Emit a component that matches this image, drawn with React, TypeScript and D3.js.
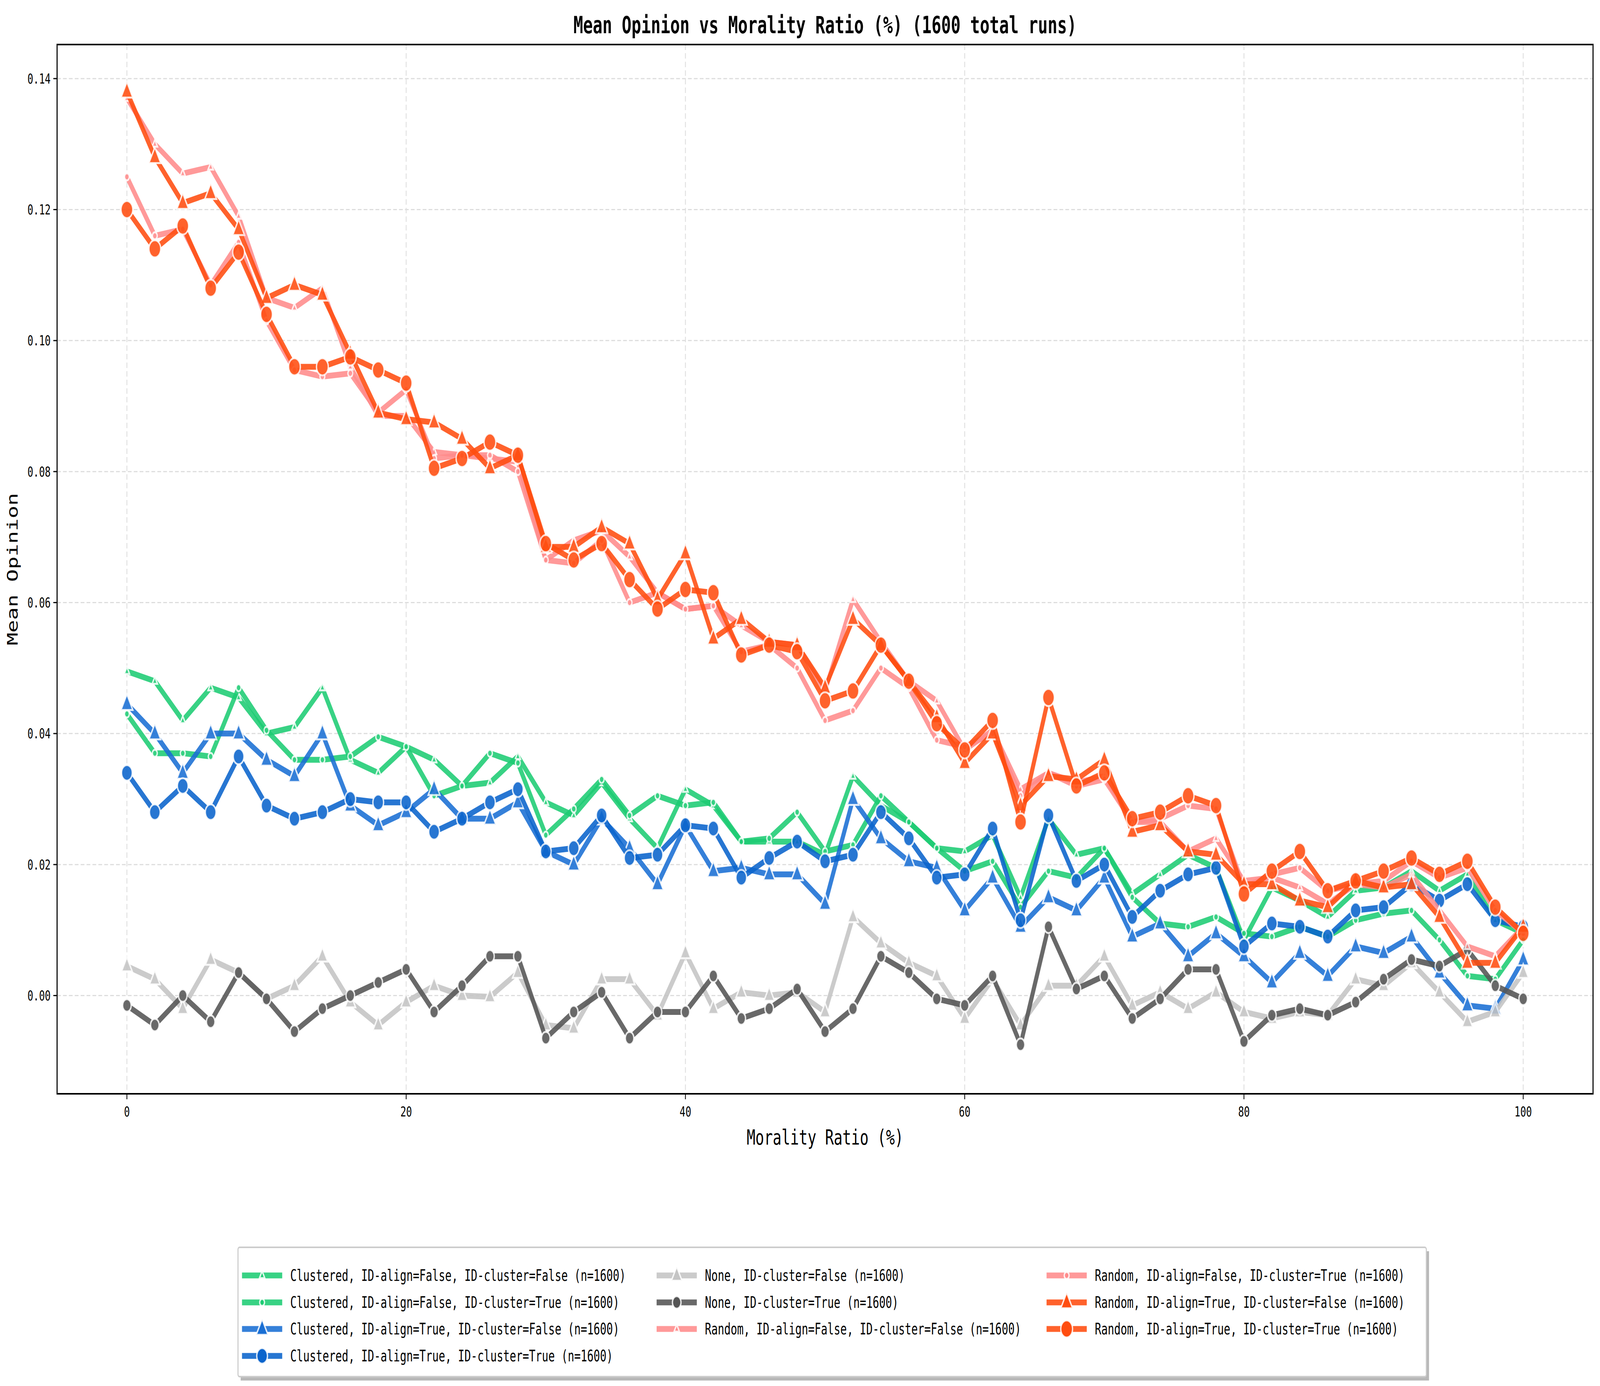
import React from "react";
import * as d3 from "d3";

const ratios = d3.range(0, 101, 2);

const clusteredFF = [0.0495, 0.048, 0.042, 0.047, 0.0455, 0.04, 0.041, 0.047, 0.036, 0.034, 0.038, 0.036, 0.032, 0.0325, 0.0365, 0.0295, 0.0275, 0.0325, 0.027, 0.0225, 0.0315, 0.029, 0.0235, 0.0235, 0.0235, 0.0215, 0.0335, 0.029, 0.0265, 0.0225, 0.022, 0.0245, 0.015, 0.027, 0.0215, 0.0225, 0.0155, 0.0185, 0.0215, 0.0195, 0.0085, 0.0165, 0.0145, 0.012, 0.016, 0.0165, 0.019, 0.016, 0.0185, 0.0115, 0.0095];
const clusteredFT = [0.043, 0.037, 0.037, 0.0365, 0.047, 0.0405, 0.036, 0.036, 0.0365, 0.0395, 0.038, 0.0305, 0.032, 0.037, 0.0355, 0.0245, 0.0285, 0.033, 0.0275, 0.0305, 0.029, 0.0295, 0.0235, 0.024, 0.028, 0.022, 0.023, 0.0305, 0.0265, 0.0225, 0.019, 0.0205, 0.0135, 0.019, 0.018, 0.0225, 0.015, 0.011, 0.0105, 0.012, 0.0095, 0.009, 0.0105, 0.009, 0.0115, 0.0125, 0.013, 0.0085, 0.003, 0.0025, 0.0085];
const clusteredTF = [0.0445, 0.04, 0.034, 0.04, 0.04, 0.036, 0.0335, 0.04, 0.029, 0.026, 0.028, 0.0315, 0.027, 0.027, 0.0295, 0.022, 0.02, 0.027, 0.0225, 0.017, 0.026, 0.019, 0.0195, 0.0185, 0.0185, 0.014, 0.03, 0.024, 0.0205, 0.0195, 0.013, 0.018, 0.0105, 0.015, 0.013, 0.018, 0.009, 0.011, 0.006, 0.0095, 0.006, 0.002, 0.0065, 0.003, 0.0075, 0.0065, 0.009, 0.0035, -0.0015, -0.002, 0.0055];
const clusteredTT = [0.034, 0.028, 0.032, 0.028, 0.0365, 0.029, 0.027, 0.028, 0.03, 0.0295, 0.0295, 0.025, 0.027, 0.0295, 0.0315, 0.022, 0.0225, 0.0275, 0.021, 0.0215, 0.026, 0.0255, 0.018, 0.021, 0.0235, 0.0205, 0.0215, 0.028, 0.024, 0.018, 0.0185, 0.0255, 0.0115, 0.0275, 0.0175, 0.02, 0.012, 0.016, 0.0185, 0.0195, 0.0075, 0.011, 0.0105, 0.009, 0.013, 0.0135, 0.017, 0.0145, 0.017, 0.0115, 0.0105];
const noneF = [0.0045, 0.0025, -0.002, 0.0055, 0.0035, -0.0005, 0.0015, 0.006, -0.001, -0.0045, -0.001, 0.0015, 0.0, -0.0002, 0.0035, -0.0045, -0.005, 0.0025, 0.0025, -0.003, 0.0065, -0.002, 0.0005, 0.0, 0.0005, -0.0025, 0.012, 0.008, 0.005, 0.003, -0.0035, 0.0025, -0.0045, 0.0015, 0.0015, 0.006, -0.0015, 0.0005, -0.002, 0.0005, -0.0025, -0.0035, -0.0025, -0.003, 0.0025, 0.0015, 0.005, 0.0005, -0.004, -0.0025, 0.0035];
const noneT = [-0.0015, -0.0045, 0.0, -0.004, 0.0035, -0.0005, -0.0055, -0.002, 0.0, 0.002, 0.004, -0.0025, 0.0015, 0.006, 0.006, -0.0065, -0.0025, 0.0005, -0.0065, -0.0025, -0.0025, 0.003, -0.0035, -0.002, 0.001, -0.0055, -0.002, 0.006, 0.0035, -0.0005, -0.0015, 0.003, -0.0075, 0.0105, 0.001, 0.003, -0.0035, -0.0005, 0.004, 0.004, -0.007, -0.003, -0.002, -0.003, -0.001, 0.0025, 0.0055, 0.0045, 0.007, 0.0015, -0.0005];
const randomFF = [0.137, 0.13, 0.1255, 0.1265, 0.119, 0.1065, 0.105, 0.108, 0.096, 0.0885, 0.0885, 0.083, 0.0825, 0.082, 0.0815, 0.0665, 0.0695, 0.071, 0.067, 0.0615, 0.059, 0.0595, 0.0565, 0.054, 0.0535, 0.0465, 0.0605, 0.054, 0.048, 0.045, 0.0375, 0.0405, 0.0315, 0.034, 0.0325, 0.0335, 0.0265, 0.0265, 0.022, 0.024, 0.0175, 0.018, 0.0165, 0.014, 0.017, 0.0165, 0.0185, 0.013, 0.0075, 0.006, 0.0105];
const randomFT = [0.125, 0.116, 0.117, 0.1085, 0.115, 0.103, 0.0955, 0.0945, 0.095, 0.089, 0.0925, 0.082, 0.0825, 0.0825, 0.08, 0.0665, 0.066, 0.0695, 0.06, 0.0615, 0.059, 0.0595, 0.0525, 0.0535, 0.05, 0.042, 0.0435, 0.05, 0.047, 0.039, 0.038, 0.04, 0.0305, 0.034, 0.032, 0.033, 0.0265, 0.027, 0.029, 0.0285, 0.0165, 0.0185, 0.0195, 0.016, 0.017, 0.0175, 0.0205, 0.018, 0.0195, 0.013, 0.0095];
const randomTF = [0.138, 0.128, 0.121, 0.1225, 0.117, 0.1065, 0.1085, 0.107, 0.098, 0.089, 0.088, 0.0875, 0.085, 0.0805, 0.0825, 0.0685, 0.0685, 0.0715, 0.069, 0.0605, 0.0675, 0.0545, 0.0575, 0.054, 0.0535, 0.047, 0.0575, 0.0535, 0.048, 0.0425, 0.0355, 0.04, 0.029, 0.0335, 0.033, 0.036, 0.025, 0.026, 0.022, 0.0215, 0.017, 0.017, 0.0145, 0.0135, 0.0175, 0.0165, 0.017, 0.012, 0.005, 0.005, 0.0105];
const randomTT = [0.12, 0.114, 0.1175, 0.108, 0.1135, 0.104, 0.096, 0.096, 0.0975, 0.0955, 0.0935, 0.0805, 0.082, 0.0845, 0.0825, 0.069, 0.0665, 0.069, 0.0635, 0.059, 0.062, 0.0615, 0.052, 0.0535, 0.0525, 0.045, 0.0465, 0.0535, 0.048, 0.0415, 0.0375, 0.042, 0.0265, 0.0455, 0.032, 0.034, 0.027, 0.028, 0.0305, 0.029, 0.0155, 0.019, 0.022, 0.016, 0.0175, 0.019, 0.021, 0.0185, 0.0205, 0.0135, 0.0095];

const yTicks = [0, 0.02, 0.04, 0.06, 0.08, 0.1, 0.12, 0.14];
const xTicks = [0, 20, 40, 60, 80, 100];

type Series = { label: string; values: number[]; color: string; marker: "tri" | "circle"; size: number };

const series: Series[] = [
  { label: "Clustered, ID-align=False, ID-cluster=False (n=1600)", values: clusteredFF, color: "#1dcc74", marker: "tri", size: 9 },
  { label: "Clustered, ID-align=False, ID-cluster=True (n=1600)", values: clusteredFT, color: "#1dcc74", marker: "circle", size: 9 },
  { label: "Clustered, ID-align=True, ID-cluster=False (n=1600)", values: clusteredTF, color: "#1a6fd4", marker: "tri", size: 20 },
  { label: "Clustered, ID-align=True, ID-cluster=True (n=1600)", values: clusteredTT, color: "#0a64cc", marker: "circle", size: 20 },
  { label: "None, ID-cluster=False (n=1600)", values: noneF, color: "#c4c4c4", marker: "tri", size: 18 },
  { label: "None, ID-cluster=True (n=1600)", values: noneT, color: "#555555", marker: "circle", size: 16 },
  { label: "Random, ID-align=False, ID-cluster=False (n=1600)", values: randomFF, color: "#ff8c8c", marker: "tri", size: 9 },
  { label: "Random, ID-align=False, ID-cluster=True (n=1600)", values: randomFT, color: "#ff8c8c", marker: "circle", size: 9 },
  { label: "Random, ID-align=True, ID-cluster=False (n=1600)", values: randomTF, color: "#ff4d10", marker: "tri", size: 20 },
  { label: "Random, ID-align=True, ID-cluster=True (n=1600)", values: randomTT, color: "#ff4d10", marker: "circle", size: 22 },
];

const W = 5970;
const H = 3548;
const m = { left: 213, right: 5944, top: 114, bottom: 2800 };
const FONT = "'DejaVu Sans Mono', monospace";

const Marker: React.FC<{ s: Series; x: number; y: number }> = ({ s, x, y }) =>
  s.marker === "circle" ? (
    <circle cx={x} cy={y} r={s.size} fill={s.color} stroke="#ffffff" strokeOpacity={0.85} strokeWidth={5} />
  ) : (
    <path
      d={`M${x},${y - s.size * 1.25}L${x + s.size * 1.1},${y + s.size * 0.75}L${x - s.size * 1.1},${y + s.size * 0.75}Z`}
      fill={s.color}
      stroke="#ffffff"
      strokeOpacity={0.85}
      strokeWidth={5}
    />
  );

export default function App() {
  const x = d3.scaleLinear().domain([-5, 105]).range([m.left, m.right]);
  const y = d3.scaleLinear().domain([-0.015, 0.1452]).range([m.bottom, m.top]);
  const line = d3
    .line<number>()
    .x((_, i) => x(ratios[i]))
    .y((d) => y(d));

  const legCols = [903, 2450, 3905];
  const legRows = [3265, 3334, 3402, 3471];
  const colOf = (i: number) => (i < 4 ? 0 : i < 7 ? 1 : 2);
  const rowOf = (i: number) => (i < 4 ? i : i < 7 ? i - 4 : i - 7);

  return (
    <div style={{ position: "fixed", left: 0, top: 0, width: "100vw", height: "100vh", background: "#fff" }}>
      <svg width="100%" height="100%" viewBox={`0 0 ${W} ${H}`} preserveAspectRatio="none" style={{ display: "block" }}>
        <rect width={W} height={H} fill="#fff" />
        {yTicks.map((t) => (
          <line key={"gy" + t} x1={m.left} x2={m.right} y1={y(t)} y2={y(t)} stroke="#dddddd" strokeWidth={3} strokeDasharray="14 8" />
        ))}
        {xTicks.map((t) => (
          <line key={"gx" + t} y1={m.top} y2={m.bottom} x1={x(t)} x2={x(t)} stroke="#dddddd" strokeWidth={3} strokeDasharray="14 8" />
        ))}
        {series.map((s) => (
          <g key={s.label} opacity={0.88}>
            <path d={line(s.values) ?? ""} fill="none" stroke={s.color} strokeWidth={15} strokeLinejoin="round" />
            {s.values.map((v, i) => (
              <Marker key={i} s={s} x={x(ratios[i])} y={y(v)} />
            ))}
          </g>
        ))}
        <rect x={m.left} y={m.top} width={m.right - m.left} height={m.bottom - m.top} fill="none" stroke="#000" strokeWidth={4} />
        {yTicks.map((t) => (
          <g key={"ty" + t}>
            <line x1={m.left - 14} x2={m.left} y1={y(t)} y2={y(t)} stroke="#000" strokeWidth={3} />
            <text x={m.left - 24} y={y(t)} dy="0.35em" textAnchor="end" fontSize={36} fontFamily={FONT}>
              {t.toFixed(2)}
            </text>
          </g>
        ))}
        {xTicks.map((t) => (
          <g key={"tx" + t}>
            <line x1={x(t)} x2={x(t)} y1={m.bottom} y2={m.bottom + 14} stroke="#000" strokeWidth={3} />
            <text x={x(t)} y={m.bottom + 58} textAnchor="middle" fontSize={36} fontFamily={FONT}>
              {t}
            </text>
          </g>
        ))}
        <text x={(m.left + m.right) / 2} y={85} textAnchor="middle" fontSize={60} fontWeight="bold" fontFamily={FONT}>
          Mean Opinion vs Morality Ratio (%) (1600 total runs)
        </text>
        <text x={(m.left + m.right) / 2} y={2930} textAnchor="middle" fontSize={54} fontFamily={FONT}>
          Morality Ratio (%)
        </text>
        <text transform={`translate(65,${(m.top + m.bottom) / 2}) rotate(-90)`} textAnchor="middle" fontSize={54} fontFamily={FONT}>
          Mean Opinion
        </text>
        <rect x={898} y={3203} width={4434} height={331} fill="#888" opacity={0.6} />
        <rect x={888} y={3193} width={4434} height={331} fill="#fff" stroke="#cccccc" strokeWidth={4} rx={6} />
        {series.map((s, i) => {
          const lx = legCols[colOf(i)];
          const ly = legRows[rowOf(i)];
          return (
            <g key={"l" + i}>
              <line x1={lx} x2={lx + 150} y1={ly} y2={ly} stroke={s.color} strokeWidth={15} opacity={0.88} />
              <Marker s={s} x={lx + 75} y={ly} />
              <text x={lx + 180} y={ly} dy="0.35em" fontSize={40} fontFamily={FONT}>
                {s.label}
              </text>
            </g>
          );
        })}
      </svg>
    </div>
  );
}
